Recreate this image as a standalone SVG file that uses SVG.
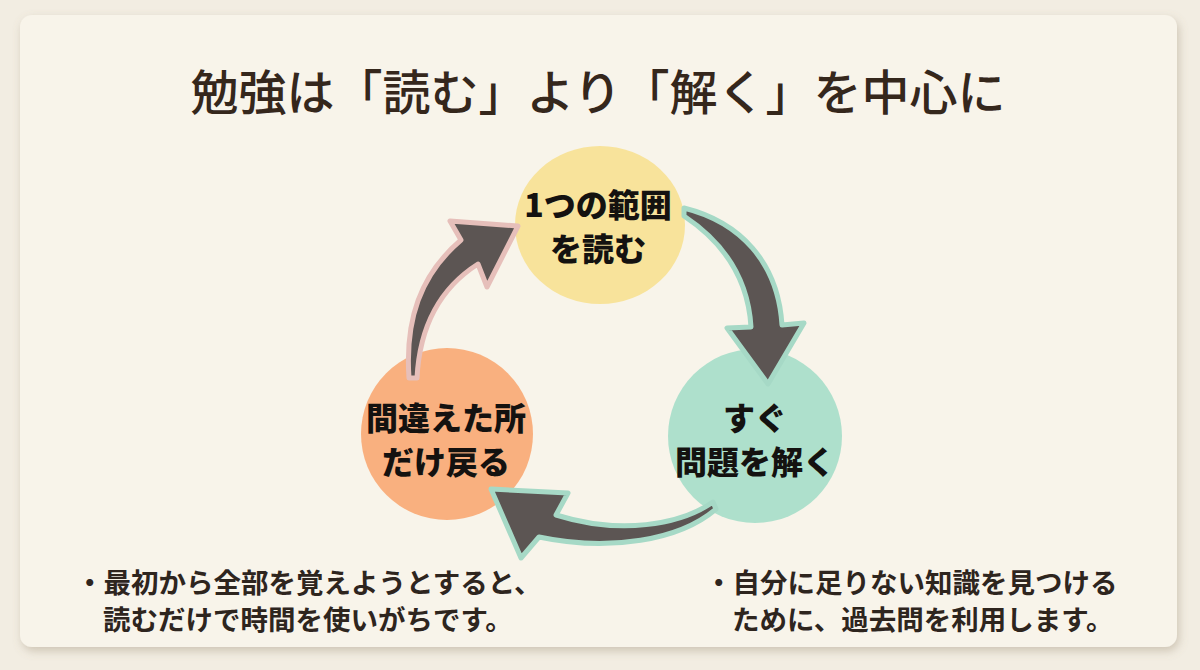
<svg xmlns="http://www.w3.org/2000/svg" width="1200" height="670" viewBox="0 0 1200 670">
  <defs>
    <filter id="shadow" x="-5%" y="-5%" width="110%" height="115%">
      <feDropShadow dx="2" dy="4" stdDeviation="5" flood-color="#8a7a60" flood-opacity="0.35"/>
    </filter>
    <style>
      .title { font-family: "Noto Sans CJK JP", sans-serif; font-size: 48px; font-weight: 500; fill: #35271c; }
      .node-text { font-family: "Noto Sans CJK JP", sans-serif; font-size: 32px; font-weight: 900; fill: #141210; text-anchor: middle; }
      .note { font-family: "Noto Sans CJK JP", sans-serif; font-size: 27.5px; font-weight: 700; fill: #2e251e; }
      .arrow { fill: #5c5553; stroke-width: 5; stroke-linejoin: round; }
      .pink { stroke: #e6bfba; }
      .mint { stroke: #a6d9c6; }
    </style>
  </defs>

  <rect x="0" y="0" width="1200" height="670" fill="#f2ede2"/>
  <rect id="card" x="20" y="15" width="1157" height="632" rx="12" fill="#f8f4ea" filter="url(#shadow)"/>

  <text id="title" class="title" x="598" y="110" text-anchor="middle">勉強は「読む」より「解く」を中心に</text>

  <g id="node-read">
    <ellipse cx="600" cy="225" rx="85" ry="79" fill="#f8e39b"/>
    <text class="node-text" x="598" y="217">1つの範囲</text>
    <text class="node-text" x="598" y="261">を読む</text>
  </g>

  <g id="node-solve">
    <circle cx="755" cy="436" r="87" fill="#aee0cc"/>
    <text class="node-text" x="755" y="430">すぐ</text>
    <text class="node-text" x="755" y="474">問題を解く</text>
  </g>

  <g id="node-review">
    <circle cx="447" cy="434" r="86" fill="#f9b07f"/>
    <text class="node-text" x="446" y="430">間違えた所</text>
    <text class="node-text" x="446" y="474">だけ戻る</text>
  </g>

  <g id="connectors">
    <path class="arrow pink" d="M 409 378 C 405 320 420 275 461 240 L 450 221 L 518 226 L 487 287 L 478 264 C 445 285 420 320 417 378 Z"/>
    <path class="arrow mint" d="M 684 208 C 740 222 778 262 782 325 L 804 323 L 768 384 L 727 328 L 751 327 C 748 275 720 240 684 216 Z"/>
    <path class="arrow mint" d="M 713 502 C 680 525 620 535 556 515 L 568 493 L 491 489 L 521 558 L 539 537 C 610 552 680 540 716 509 Z"/>
  </g>

  <g id="note-left">
    <text class="note" x="76" y="593">・最初から全部を覚えようとすると、</text>
    <text class="note" x="103" y="630">読むだけで時間を使いがちです。</text>
  </g>
  <g id="note-right">
    <text class="note" x="705" y="593">・自分に足りない知識を見つける</text>
    <text class="note" x="732" y="630">ために、過去問を利用します。</text>
  </g>
</svg>
